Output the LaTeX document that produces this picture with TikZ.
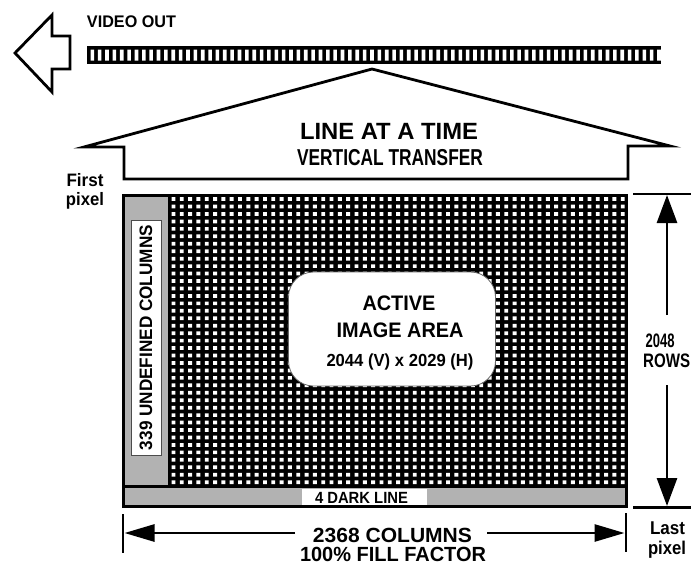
\documentclass[tikz,border=0pt]{standalone}
\usepackage{graphicx}
\usepackage{fontspec}
\setmainfont{Liberation Sans}
\usetikzlibrary{arrows.meta}
\newcommand{\fsz}[1]{\fontsize{#1}{#1}\selectfont\bfseries}
\newcommand{\fitw}[2]{\resizebox{#1pt}{\height}{#2}}
\begin{document}
\begin{tikzpicture}[x=1pt,y=-1pt,
  outline/.style={draw=black,line width=2.8pt,line join=miter},
  lbl/.style={inner sep=0pt,anchor=base},
  dimline/.style={line width=2.8pt},
  vhead/.style={-{Triangle[length=28pt,width=20pt]}},
  hhead/.style={-{Triangle[length=30pt,width=17pt]}},
  graycol/.style={fill=black!30}]
\clip (0,0) rectangle (691,566);
\fill[white] (0,0) rectangle (691,566);
% video out arrow
\draw[outline] (15,53) -- (52,15) -- (52,36) -- (70,36) -- (70,69) -- (52,69) -- (52,92) -- cycle;
\node[lbl,font={\fsz{16.8}}] (vo) at (131.5,27) {\fitw{89}{VIDEO OUT}};
% register strip
\fill[black] (87,46) rectangle (661,64);
\fill[white] \foreach \i in {0,...,77} { (90.5+\i*7.36,49.5) rectangle ++(3.6,11) };
% transfer arrow
\draw[outline] (84,147) -- (372,69) -- (670,146) -- (628,146) -- (628,179) -- (124,179) -- (124,147) -- cycle;
\node[lbl,font={\fsz{23.5}}] (l1) at (389,139) {\fitw{178}{LINE AT A TIME}};
\node[lbl,font={\fsz{23}}] (l2) at (390,165) {\fitw{186}{VERTICAL TRANSFER}};
% first pixel
\node[lbl,font={\fsz{18}}] (fp1) at (85,186) {\fitw{37}{First}};
\node[lbl,font={\fsz{18}}] (fp2) at (85,205) {\fitw{38}{pixel}};
% sensor
\fill[black] (122,194) rectangle (628,508);
\fill[graycol] (125,197) rectangle (168,485);
\fill[graycol] (125,488) rectangle (625,505);
\fill[white] \foreach \i in {0,...,54} { \foreach \j in {0,...,38} { (171.5+\i*8.32,197.2+\j*7.45) rectangle ++(3.9,3.7) } };
\node[draw=black!70,fill=white,line width=0.8pt,rotate=90,minimum width=235,minimum height=30,inner sep=0pt,font={\fsz{18}}] (undef) at (146,337.5) {\fitw{225}{339 UNDEFINED COLUMNS}};
\node[draw=black!60,fill=white,line width=0.8pt,rounded corners=25pt,minimum width=207,minimum height=114] (active) at (392,329) {};
\node[lbl,font={\fsz{21}}] (a1) at (399,310) {\fitw{73}{ACTIVE}};
\node[lbl,font={\fsz{21}}] (a2) at (400,337) {\fitw{127}{IMAGE AREA}};
\node[lbl,font={\fsz{17.5}}] (a3) at (400,366) {\fitw{147}{2044 (V) x 2029 (H)}};
\fill[white] (302,488.5) rectangle (427,505);
\node[lbl,font={\fsz{16.2}}] (dark) at (361.5,503.5) {\fitw{93}{4 DARK LINE}};
% vertical dimension
\coordinate (tt1) at (633,194); \coordinate (tt2) at (695,194);
\coordinate (bt1) at (633,507.5); \coordinate (bt2) at (695,507.5);
\draw[dimline] (tt1) -- (tt2);
\draw[dimline] (bt1) -- (bt2);
\coordinate (vu) at (667,315); \coordinate (vutip) at (667,195);
\coordinate (vd) at (667,385); \coordinate (vdtip) at (667,506);
\draw[dimline,vhead] (vu) -- (vutip);
\draw[dimline,vhead] (vd) -- (vdtip);
\node[lbl,font={\fsz{19.5}}] (r1) at (660,347) {\fitw{29}{2048}};
\node[lbl,font={\fsz{19.5}},anchor=base west] (r2) at (643,367) {\fitw{47}{ROWS}};
% horizontal dimension
\coordinate (lt1) at (123,514); \coordinate (lt2) at (123,553);
\coordinate (rt1) at (626,513); \coordinate (rt2) at (626,552);
\draw[dimline] (lt1) -- (lt2);
\draw[dimline] (rt1) -- (rt2);
\coordinate (hl) at (295,533); \coordinate (hltip) at (124.5,533);
\coordinate (hr) at (487,533); \coordinate (hrtip) at (624.5,533);
\draw[dimline,hhead] (hl) -- (hltip);
\draw[dimline,hhead] (hr) -- (hrtip);
\node[lbl,font={\fsz{20.5}}] (c1) at (392.5,542) {\fitw{159}{2368 COLUMNS}};
\node[lbl,font={\fsz{20.5}}] (c2) at (393,561) {\fitw{186}{100\% FILL FACTOR}};
\node[lbl,font={\fsz{18.5}}] (lp1) at (667.5,534) {\fitw{35}{Last}};
\node[lbl,font={\fsz{18.5}}] (lp2) at (667,554) {\fitw{38}{pixel}};
\end{tikzpicture}
\end{document}
